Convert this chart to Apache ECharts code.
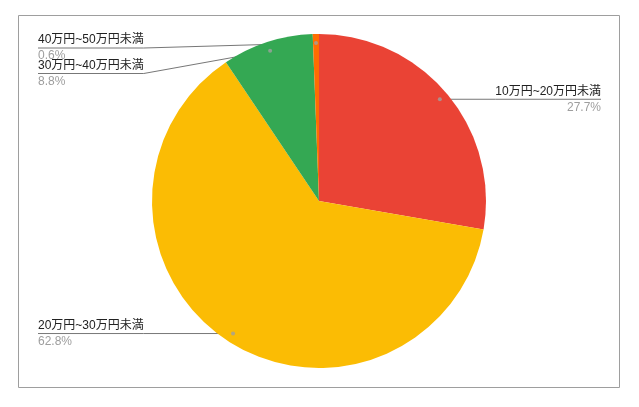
<!DOCTYPE html>
<html>
<head>
<meta charset="utf-8">
<script src="https://cdn.jsdelivr.net/npm/echarts@6/dist/echarts.min.js"></script>
<style>html,body{margin:0;padding:0;background:#fff}#c{width:639px;height:407px}</style>
</head>
<body>
<div id="c"></div>
<script>
const categories = ['10万円~20万円未満', '20万円~30万円未満', '30万円~40万円未満', '40万円~50万円未満'];
const percents = [27.7, 62.8, 8.8, 0.6];
const sliceColors = ['#EA4335', '#FBBC04', '#34A853', '#FF6D01'];

// styling / layout constants
const CX = 319, CY = 201, R = 167, DOT_R = 0.946;
const labelSide = ['right', 'left', 'left', 'left'];
const labelY = [null, null, 73.5, 48]; // null => follow dot
const LEFT_X = 38, RIGHT_X = 601;

const total = percents.reduce((a, b) => a + b, 0);
const mids = [];
let acc = 0;
percents.forEach(v => { mids.push(acc + v / 2); acc += v; });
function dotPos(i) {
  const a = mids[i] / total * 2 * Math.PI;
  return [CX + DOT_R * R * Math.sin(a), CY - DOT_R * R * Math.cos(a)];
}

const chart = echarts.init(document.getElementById('c'));
chart.setOption({
  animation: false,
  backgroundColor: '#fff',
  graphic: [{
    type: 'rect', z: -10, silent: true,
    shape: { x: 18.5, y: 15.5, width: 601, height: 372 },
    style: { fill: 'none', stroke: '#9e9e9e', lineWidth: 1 }
  }],
  polar: { center: [CX, CY], radius: R },
  angleAxis: { type: 'value', min: 0, max: total, startAngle: 90, clockwise: true, show: false },
  radiusAxis: { type: 'value', min: 0, max: 1, show: false },
  series: [{
    type: 'pie',
    center: [CX, CY],
    radius: R,
    startAngle: 90,
    clockwise: true,
    data: categories.map((n, i) => ({ name: n, value: percents[i], itemStyle: { color: sliceColors[i] } })),
    itemStyle: { borderWidth: 0 },
    label: {
      show: true,
      position: 'outside',
      formatter: p => '{n|' + p.name + '}\n{p|' + percents[p.dataIndex].toFixed(1) + '%}',
      rich: {
        n: { fontSize: 12, color: '#222', lineHeight: 16, fontFamily: "Arial, 'Liberation Sans', 'Noto Sans CJK JP'" },
        p: { fontSize: 12, color: '#9e9e9e', lineHeight: 16, fontFamily: "Arial, 'Liberation Sans', 'Noto Sans CJK JP'" }
      }
    },
    labelLine: { show: true, lineStyle: { color: '#777', width: 1 } },
    labelLayout: function (params) {
      const i = params.dataIndex;
      const d = dotPos(i);
      const y = labelY[i] == null ? d[1] : labelY[i];
      const w = params.labelRect.width;
      if (labelSide[i] === 'left') {
        return {
          x: LEFT_X, y: y, align: 'left', verticalAlign: 'middle',
          labelLinePoints: [d, [LEFT_X + w, y], [LEFT_X, y]]
        };
      }
      return {
        x: RIGHT_X, y: y, align: 'right', verticalAlign: 'middle',
        labelLinePoints: [d, [RIGHT_X - w, y], [RIGHT_X, y]]
      };
    }
  }, {
    type: 'scatter',
    coordinateSystem: 'polar',
    symbolSize: 4,
    z: 10,
    itemStyle: { color: '#a0a0a0' },
    data: mids.map(m => [DOT_R, m])
  }]
});
</script>
</body>
</html>
